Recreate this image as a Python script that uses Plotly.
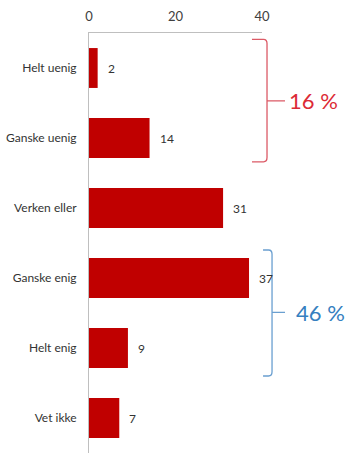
import plotly.graph_objects as go

categories = ["Helt uenig", "Ganske uenig", "Verken eller", "Ganske enig", "Helt enig", "Vet ikke"]
values = [2, 14, 31, 37, 9, 7]
x_ticks = [0, 20, 40]
group_labels = ["16 %", "46 %"]

pos = list(range(len(categories)))

fig = go.Figure()
fig.add_trace(go.Bar(
    x=values, y=pos, orientation="h",
    marker=dict(color="#C00000", line=dict(width=0)),
    width=0.57, hoverinfo="skip",
))

for v, p in zip(values, pos):
    fig.add_annotation(x=v, y=p, xref="x", yref="y", text=str(v), showarrow=False,
                       xanchor="left", yanchor="middle", xshift=8,
                       font=dict(family="Lato", size=12, color="#333333"))

def brace(x_hook, x_v, x_tip, y_top, y_mid, y_bot, color):
    r = 0.06
    path = (f"M {x_hook},{y_top} L {x_v - 0.02},{y_top} Q {x_v},{y_top} {x_v},{y_top + r} "
            f"L {x_v},{y_bot - r} Q {x_v},{y_bot} {x_v - 0.02},{y_bot} L {x_hook},{y_bot} "
            f"M {x_v},{y_mid} L {x_tip},{y_mid}")
    fig.add_shape(type="path", path=path, xref="paper", yref="y",
                  line=dict(color=color, width=1.3), layer="above")

brace(0.942, 1.029, 1.133, -0.41, 0.47, 1.34, "#DC5A66")
brace(1.006, 1.058, 1.133, 2.6, 3.49, 4.4, "#6A9FD0")

fig.add_annotation(x=1.145, y=0.47, xref="paper", yref="y", text=group_labels[0], showarrow=False,
                   xanchor="left", yanchor="middle",
                   font=dict(family="Lato", size=22, color="#DC2A36"))
fig.add_annotation(x=1.185, y=3.49, xref="paper", yref="y", text=group_labels[1], showarrow=False,
                   xanchor="left", yanchor="middle",
                   font=dict(family="Lato", size=22, color="#3580C0"))

fig.update_layout(
    width=353, height=455,
    margin=dict(l=89, r=91, t=33, b=2),
    paper_bgcolor="white", plot_bgcolor="white",
    showlegend=False,
    xaxis=dict(side="top", range=[0, 40], tickvals=x_ticks, ticktext=[str(t) for t in x_ticks],
               showgrid=False, zeroline=False, showline=True, linecolor="#BFBFBF", linewidth=1,
               ticks="", ticklabelstandoff=6,
               tickfont=dict(family="Lato", size=13, color="#404040")),
    yaxis=dict(range=[5.5, -0.5], tickvals=pos, ticktext=categories,
               showgrid=False, zeroline=False, showline=True, linecolor="#BFBFBF", linewidth=1,
               ticks="", ticklabelstandoff=9,
               tickfont=dict(family="Lato", size=12, color="#333333")),
)

fig.write_html("out.html")
